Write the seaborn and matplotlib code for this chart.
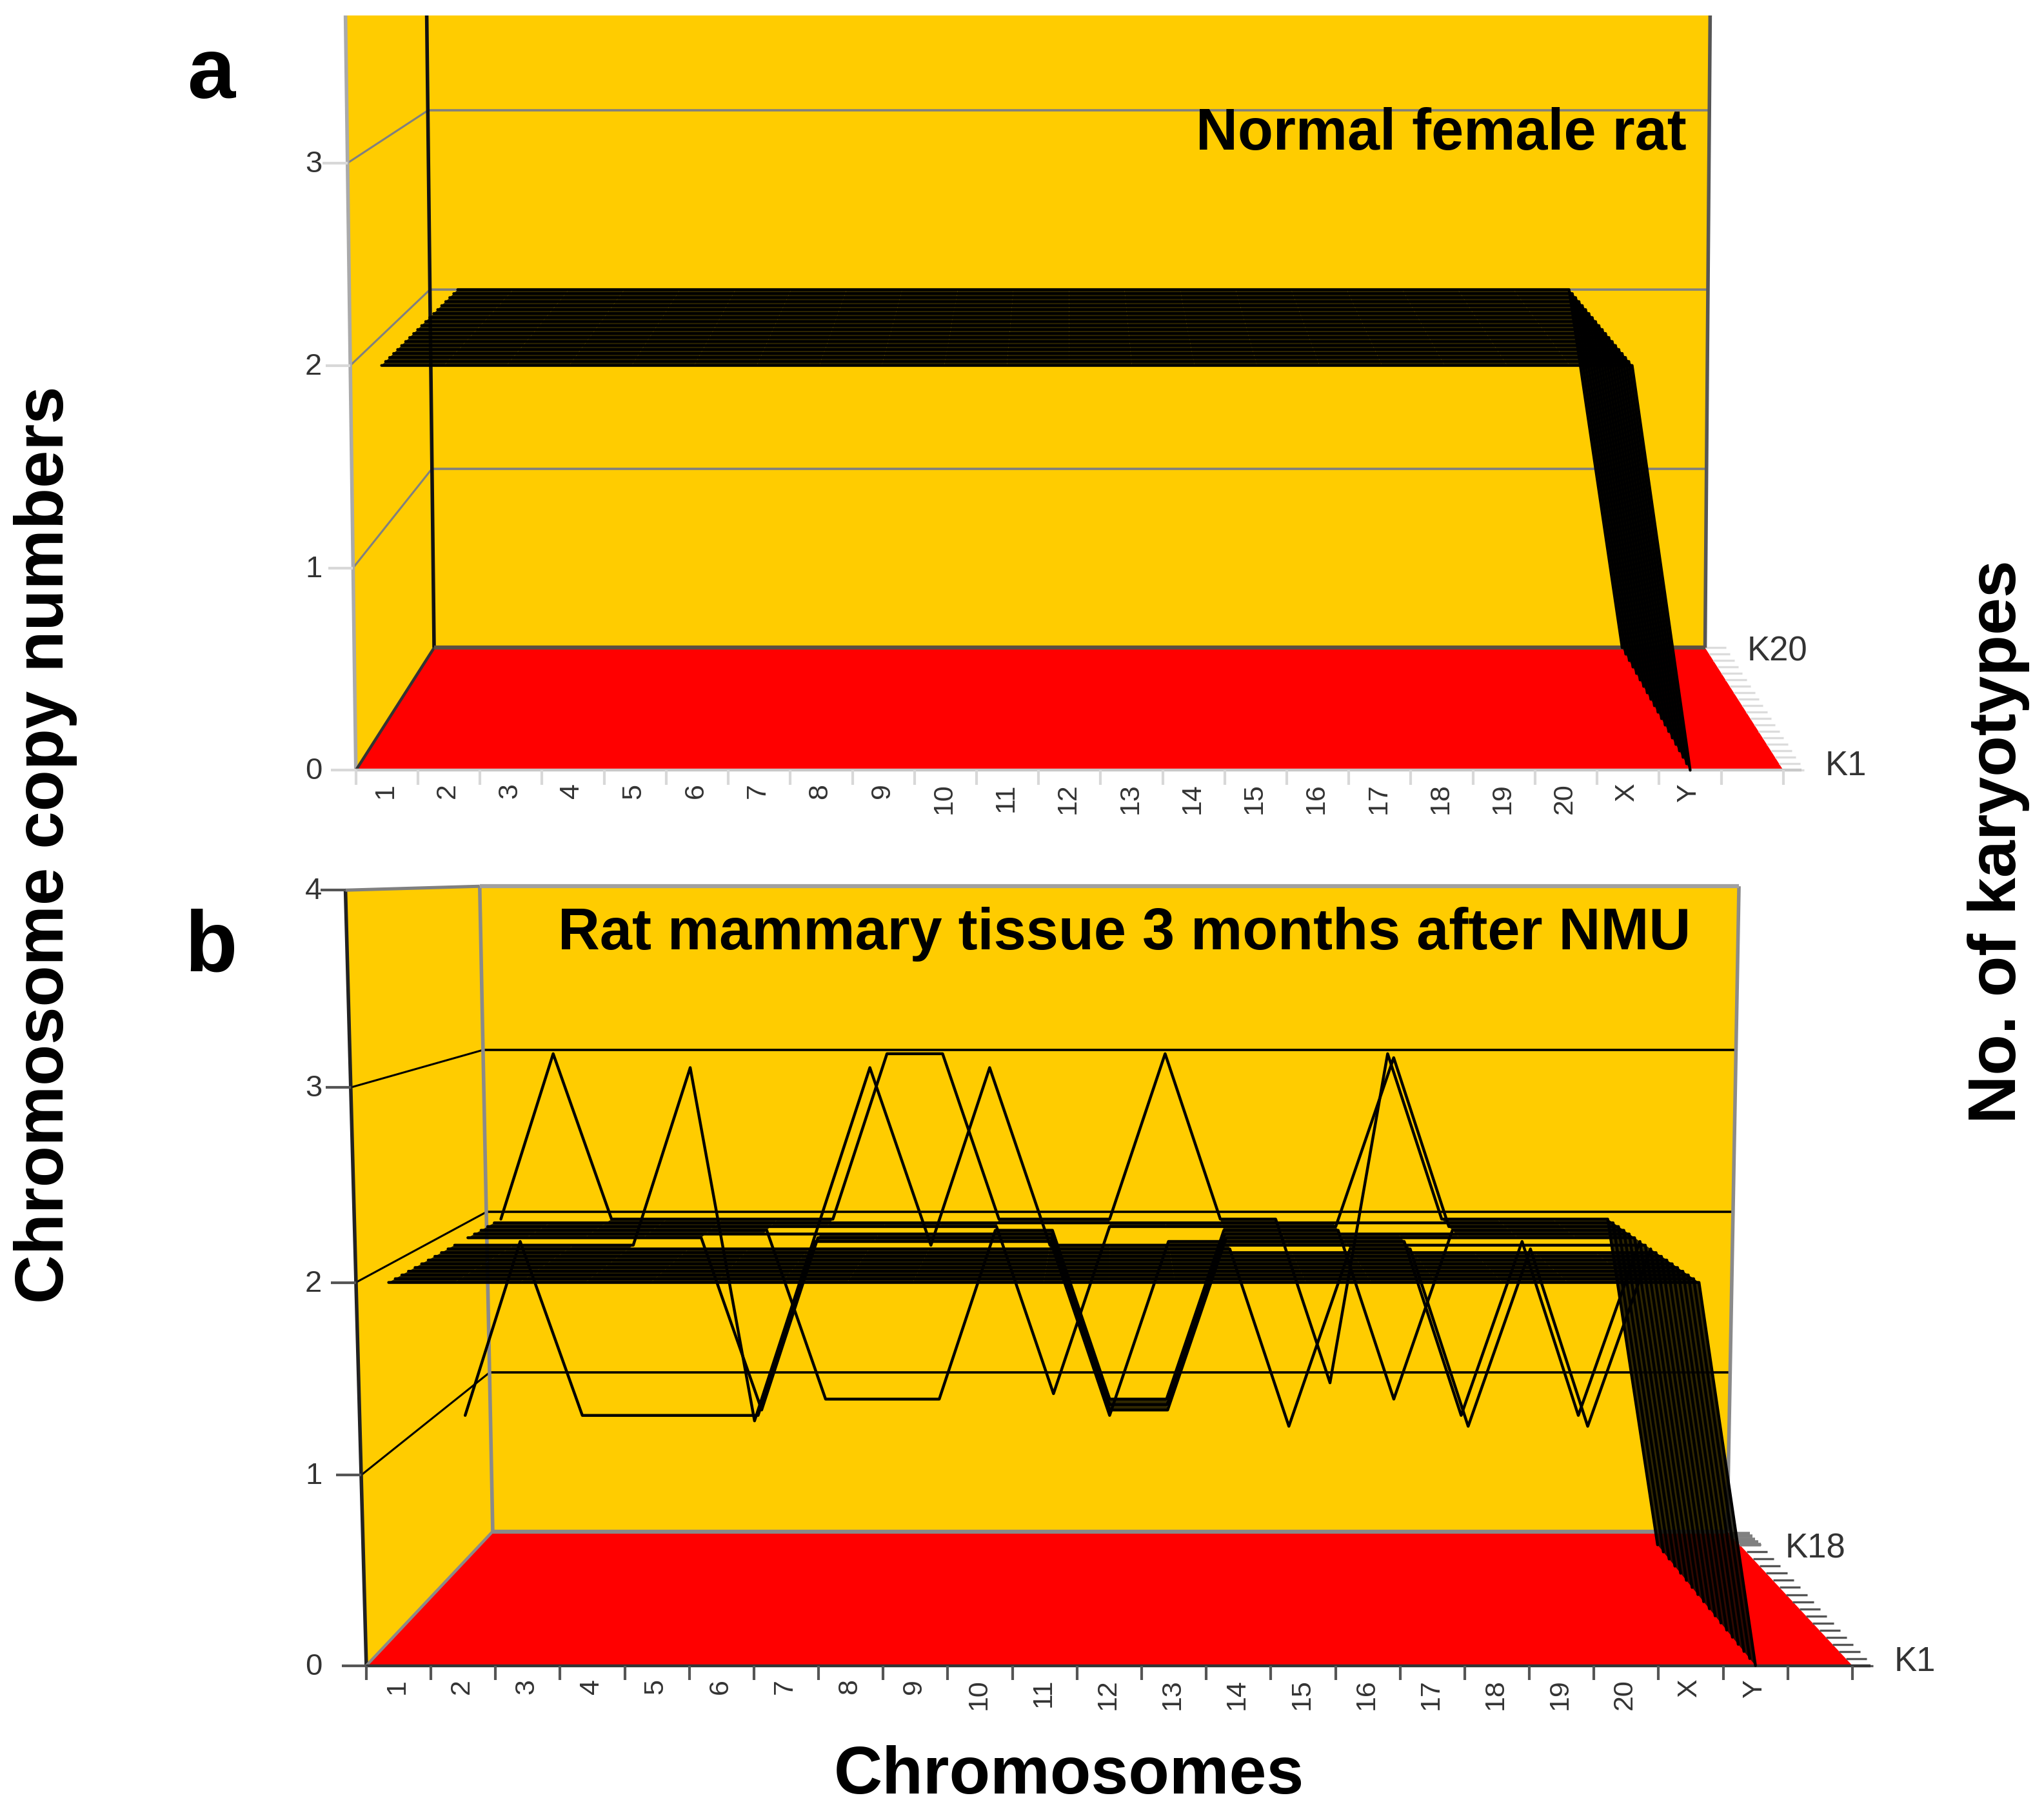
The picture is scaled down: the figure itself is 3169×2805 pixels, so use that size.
import matplotlib
matplotlib.use("Agg")
import matplotlib.pyplot as plt
import pandas as pd
import seaborn as sns

sns.set_theme(style="white")
plt.rcParams["font.family"] = ["Liberation Sans", "DejaVu Sans"]

chromosomes = ["1", "2", "3", "4", "5", "6", "7", "8", "9", "10", "11",
               "12", "13", "14", "15", "16", "17", "18", "19", "20", "X", "Y"]

# copy number per chromosome, one row per karyotype (K1 first)
normal_row = [2, 2, 2, 2, 2, 2, 2, 2, 2, 2, 2, 2, 2, 2, 2, 2, 2, 2, 2, 2, 2, 0]
copies_a = [normal_row] * 20

copies_b = [
    [2, 2, 2, 2, 2, 2, 2, 2, 2, 2, 2, 2, 2, 2, 2, 2, 2, 2, 2, 2, 2, 0],
    [2, 2, 2, 2, 2, 2, 2, 2, 2, 2, 2, 2, 2, 2, 2, 2, 2, 2, 2, 2, 2, 0],
    [2, 2, 2, 2, 2, 2, 2, 2, 2, 2, 2, 2, 2, 2, 2, 2, 2, 2, 2, 2, 2, 0],
    [2, 2, 2, 2, 2, 2, 2, 2, 2, 2, 2, 2, 2, 2, 2, 2, 2, 2, 2, 2, 2, 0],
    [2, 2, 2, 2, 2, 2, 2, 2, 2, 2, 2, 2, 2, 2, 2, 2, 2, 2, 2, 2, 2, 0],
    [2, 2, 2, 2, 2, 2, 2, 2, 2, 2, 2, 2, 2, 2, 2, 2, 2, 2, 2, 2, 2, 0],
    [2, 2, 2, 2, 2, 2, 2, 2, 2, 2, 2, 2, 2, 2, 2, 2, 2, 2, 2, 2, 2, 0],
    [2, 2, 2, 2, 2, 2, 2, 2, 2, 2, 2, 2, 2, 2, 2, 2, 2, 2, 2, 2, 2, 0],
    [2, 2, 2, 2, 2, 2, 2, 2, 2, 2, 2, 2, 2, 2, 2, 2, 2, 2, 2, 2, 2, 0],
    [2, 2, 2, 2, 2, 2, 2, 2, 2, 2, 2, 2, 2, 2, 1, 2, 2, 1, 2, 1, 2, 0],
    [2, 2, 2, 2, 3, 1, 2, 3, 2, 3, 2, 2, 2, 2, 2, 2, 2, 2, 2, 2, 2, 0],
    [1, 2, 1, 1, 1, 1, 2, 2, 2, 2, 2, 1, 2, 2, 2, 2, 2, 1, 2, 1, 2, 0],
    [2, 2, 2, 2, 2, 1, 2, 2, 2, 2, 2, 1, 1, 2, 2, 2, 2, 2, 2, 2, 2, 0],
    [2, 2, 2, 2, 2, 2, 2, 2, 2, 2, 2, 1, 1, 2, 2, 2, 2, 2, 2, 2, 2, 0],
    [2, 2, 2, 2, 2, 2, 1, 1, 1, 2, 2, 1, 1, 2, 2, 2, 1, 2, 2, 2, 2, 0],
    [2, 2, 2, 2, 2, 2, 2, 2, 2, 2, 1, 2, 2, 2, 2, 2, 3, 2, 2, 2, 2, 0],
    [2, 2, 2, 2, 2, 2, 2, 2, 2, 2, 2, 2, 2, 2, 2, 2, 2, 2, 2, 2, 2, 0],
    [2, 3, 2, 2, 2, 2, 2, 3, 3, 2, 2, 2, 3, 2, 2, 1, 3, 2, 2, 2, 2, 0],
]

copy_ticks_a = [0, 1, 2, 3]
copy_ticks_b = [0, 1, 2, 3, 4]

W, H = 1568, 1388  # working canvas, saved at 3169 x 2805
DPI = 100
N_BINS = 23

# edges of the projected box: x is (intercept, slope per copy),
# y is (intercept, slope per copy, curvature per copy squared)
GEOM_A = dict(fl=(273, -2.14), fr=(1368, 2.0), bl=(333, -1.6), br=(1308, 1.1),
              fy=(591, 155.3, 0.0), by=(497, 137.4, 0.0), depth=1.0)
GEOM_B = dict(fl=(281, -4.0), fr=(1421, 4.0), bl=(378, -2.5), br=(1325, 2.25),
              fy=(1278, 145.25, 0.875), by=(1175, 121.25, 0.625), depth=0.9)


def project(g, pos, t, z):
    """bin position, depth 0..1, copy number -> canvas x, y"""
    left_f = g["fl"][0] + g["fl"][1] * z
    right_f = g["fr"][0] + g["fr"][1] * z
    left_b = g["bl"][0] + g["bl"][1] * z
    right_b = g["br"][0] + g["br"][1] * z
    left = left_f + t * (left_b - left_f)
    right = right_f + t * (right_b - right_f)
    yf = g["fy"][0] - g["fy"][1] * z - g["fy"][2] * z * z
    yb = g["by"][0] - g["by"][1] * z - g["by"][2] * z * z
    return left + pos / N_BINS * (right - left), yf + t * (yb - yf)


def segment(ax, g, a, b, **kw):
    xa, ya = project(g, *a)
    xb, yb = project(g, *b)
    ax.plot([xa, xb], [ya, yb], solid_capstyle="butt", **kw)


def surface_frame(g, copies):
    rows = []
    n = len(copies)
    for k, row in enumerate(copies):
        t = k / (n - 1) * g["depth"]
        for c, z in enumerate(row):
            x, y = project(g, c + 0.5, t, z)
            rows.append(dict(k=k, c=c, sx=x, sy=y))
    return pd.DataFrame(rows)


def fill_cells(ax, g, copies):
    # dark cells between neighbouring karyotypes where the surface is unbroken
    n = len(copies)
    for k in range(n - 1):
        t0 = k / (n - 1) * g["depth"]
        t1 = (k + 1) / (n - 1) * g["depth"]
        for c in range(len(chromosomes) - 1):
            a, b = copies[k][c], copies[k][c + 1]
            d, e = copies[k + 1][c], copies[k + 1][c + 1]
            if (a == b == d == e) or (c == 20 and a == d and b == e):
                quad = [project(g, c + 0.5, t0, a), project(g, c + 1.5, t0, b),
                        project(g, c + 1.5, t1, e), project(g, c + 0.5, t1, d)]
                ax.fill(*zip(*quad), color="#0c0a00", alpha=0.85, lw=0, zorder=5)


def draw_panel(ax, g, copies, copy_ticks, top_z, grid_color, style):
    # floor and walls
    floor = [project(g, p, t, 0) for p, t in [(0, 0), (N_BINS, 0), (N_BINS, 1), (0, 1)]]
    ax.fill(*zip(*floor), color="#ff0000", lw=0, zorder=1)
    side = [project(g, 0, 0, 0), project(g, 0, 1, 0), project(g, 0, 1, top_z), project(g, 0, 0, top_z)]
    ax.fill(*zip(*side), color="#ffcc00", lw=0, zorder=1)
    back = [project(g, 0, 1, 0), project(g, N_BINS, 1, 0), project(g, N_BINS, 1, top_z), project(g, 0, 1, top_z)]
    ax.fill(*zip(*back), color="#ffcc00", lw=0, zorder=1)

    # gridlines on the walls
    for z in copy_ticks[1:-1] if len(copy_ticks) == 5 else copy_ticks[1:]:
        segment(ax, g, (0, 0, z), (0, 1, z), color=grid_color, lw=2.2, zorder=2)
        segment(ax, g, (0, 1, z), (N_BINS, 1, z), color=grid_color, lw=2.6, zorder=2)

    # box edges
    segment(ax, g, (0, 0, 0), (0, 0, top_z), color=style["front_edge"], lw=4.0, zorder=3)
    segment(ax, g, (0, 1, 0), (0, 1, top_z), color=style["back_left"], lw=4.0, zorder=3)
    segment(ax, g, (N_BINS, 1, 0), (N_BINS, 1, top_z), color=style["back_right"], lw=4.0, zorder=3)
    segment(ax, g, (0, 0, 0), (0, 1, 0), color=style["floor_edge"], lw=3.2, zorder=3)
    segment(ax, g, (0, 1, 0), (N_BINS, 1, 0), color=style["floor_back"], lw=4.5, zorder=3)
    if len(copy_ticks) == 5:
        segment(ax, g, (0, 0, 4), (0, 1, 4), color="#808080", lw=3.6, zorder=3)
        segment(ax, g, (0, 1, 4), (N_BINS, 1, 4), color="#a0a0a0", lw=4.5, zorder=3)

    # surface
    fill_cells(ax, g, copies)
    sns.lineplot(data=surface_frame(g, copies), x="sx", y="sy", units="k", estimator=None, sort=False,
                 color="black", lw=style["surface_lw"], legend=False, ax=ax, zorder=6)

    # chromosome axis
    x0, y0 = project(g, 0, 0, 0)
    xe, _ = project(g, N_BINS, 0, 0)
    ax.plot([x0, xe + 14], [y0, y0], color=style["axis"], lw=3.2, zorder=4, solid_capstyle="butt")
    for i in range(N_BINS + 1):
        xt, yt = project(g, i, 0, 0)
        ax.plot([xt, xt], [yt, yt + 11], color=style["tick"], lw=3.0, zorder=4, solid_capstyle="butt")
    for i, lab in enumerate(chromosomes):
        xt, yt = project(g, i + 0.5, 0, 0)
        ax.text(xt - 1, yt + 10, lab, rotation=90, ha="center", va="top", fontsize=31, color="#333333")

    # copy number axis
    for z in copy_ticks:
        xt, yt = project(g, 0, 0, z)
        ax.plot([xt - 19, xt], [yt, yt], color=style["tick"], lw=3.0, zorder=4, solid_capstyle="butt")
        ax.text(247, yt + 1, str(z), ha="right", va="center", fontsize=34, color="#333333")

    # karyotype axis
    n_k = len(copies)
    step = g["depth"] / (n_k - 1)
    for k in range(n_k):
        xt, yt = project(g, N_BINS, k * step, 0)
        ax.plot([xt, xt + 16], [yt, yt], color=style["ktick"], lw=2.4, zorder=2, solid_capstyle="butt")
    # the unused stretch behind the last karyotype reads as one block of ticks
    t = g["depth"]
    while t < 1:
        xt, yt = project(g, N_BINS, t, 0)
        ax.plot([xt, xt + 16], [yt, yt], color="#808080", lw=4.0, zorder=2, solid_capstyle="butt")
        t += step * 0.4
    xk, yk = project(g, N_BINS, g["depth"], 0)
    ax.text(xk + style["kback"], yk + 3, f"K{n_k}", ha="left", va="center", fontsize=38, color="#333333")
    xk, yk = project(g, N_BINS, 0, 0)
    ax.text(xk + 32, yk - 3, "K1", ha="left", va="center", fontsize=38, color="#333333")

    ax.set_xlim(0, W)


fig = plt.figure(figsize=(31.69, 28.05), dpi=DPI)

top_a, bot_a = 12, 650
ax_a = fig.add_axes([0, 1 - bot_a / H, 1, (bot_a - top_a) / H])
top_b, bot_b = 660, 1345
ax_b = fig.add_axes([0, 1 - bot_b / H, 1, (bot_b - top_b) / H])

style_a = dict(front_edge="#aaaaaa", back_left="#111111", back_right="#555555", floor_edge="#333333",
               floor_back="#5c5040", axis="#c8c8c8", tick="#d8d8d8", ktick="#dcdcdc",
               surface_lw=3.1, kback=32)
style_b = dict(front_edge="#222222", back_left="#8a8a8a", back_right="#8a8a8a", floor_edge="#8a8a8a",
               floor_back="#8a8a8a", axis="#333333", tick="#555555", ktick="#555555",
               surface_lw=3.2, kback=35)

draw_panel(ax_a, GEOM_A, copies_a, copy_ticks_a, 4, "#808080", style_a)
draw_panel(ax_b, GEOM_B, copies_b, copy_ticks_b, 4, "#000000", style_b)

for ax, lims in ((ax_a, (bot_a, top_a)), (ax_b, (bot_b, top_b))):
    ax.set_ylim(*lims)
    ax.set_xlabel("")
    ax.set_ylabel("")
    ax.set_axis_off()

ax_a.text(162, 58, "a", fontsize=96, fontweight="bold", ha="center", va="center", color="black")
ax_b.text(162, 728, "b", fontsize=96, fontweight="bold", ha="center", va="center", color="black")
ax_a.text(1294, 103, "Normal female rat", fontsize=64.8, fontweight="bold", ha="right", va="center",
          color="black", zorder=8)
ax_b.text(1297, 717, "Rat mammary tissue 3 months after NMU", fontsize=64.8, fontweight="bold", ha="right",
          va="center", color="black", zorder=8)
ax_a.text(35, 648, "Chromosome copy numbers", fontsize=75.5, fontweight="bold", rotation=90,
          ha="center", va="center", color="black")
ax_a.text(1533, 646, "No. of karyotypes", fontsize=75, fontweight="bold", rotation=90,
          ha="center", va="center", color="black")
ax_b.text(820, 1363, "Chromosomes", fontsize=75, fontweight="bold", ha="center", va="center", color="black")

fig.savefig("out.png", dpi=DPI)
